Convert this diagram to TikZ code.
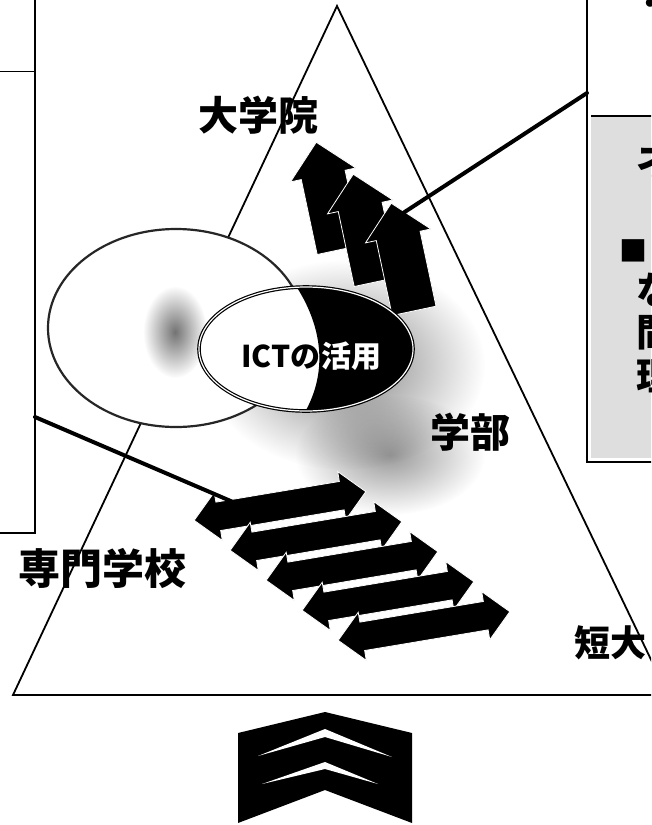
\documentclass[tikz,border=0pt]{standalone}
\usepackage{fontspec}
\newfontfamily\jpfont{Noto Sans CJK JP}
\usepackage{tikz}
\usetikzlibrary{shapes.arrows, fadings}
\newcommand{\jpsize}[1]{\jpfont\bfseries\fontsize{#1}{#1}\selectfont}
\tikzfading[name=smudge, inner color=transparent!0, outer color=transparent!100]

\begin{document}
\begin{tikzpicture}[x=1pt, y=-1pt,
    frame/.style={line width=2.6pt},
    pin/.style={line width=4pt, line cap=round},
    zone/.style={font=\jpsize{40}, inner sep=0pt},
    cut/.style={font=\jpsize{38}, inner sep=0pt, anchor=west},
    ict/.style={font=\jpsize{30}, inner sep=0pt},
    rise/.style={single arrow, fill=black, draw=white, line width=0.8pt, inner xsep=0pt, inner ysep=22pt, single arrow head extend=11pt, minimum height=110pt, rotate=102},
    swap/.style={double arrow, fill=black, draw=white, line width=0.8pt, inner xsep=0pt, inner ysep=14pt, double arrow head extend=10pt, minimum height=174pt, rotate=9.5},
    fog/.style={fill=black, path fading=smudge}]

    \useasboundingbox (0,0) rectangle (651,825);
    \clip (0,0) rectangle (651,825);
    \fill[white] (0,0) rectangle (651,825);

    % pyramid
    \coordinate (apex) at (337,6);
    \coordinate (lfoot) at (13,695);
    \coordinate (rfoot) at (668,695);
    \draw[line width=1.8pt] (apex) -- (lfoot) -- (rfoot) -- cycle;

    % grey cloud
    \fill[fog, opacity=0.5] (345,365) ellipse (140 and 105);
    \fill[fog, opacity=0.4] (390,455) ellipse (95 and 60);

    % left ellipse
    \draw[fill=white, draw=black!85, line width=2.2pt] (176,328) ellipse (128 and 99);
    \fill[fog, opacity=0.55] (175,332) ellipse (32 and 46);

    % rising arrows
    \node[rise] (upA) at (330,207) {};
    \node[rise] (upB) at (367,239) {};
    \node[rise] (upC) at (405,268) {};

    % ICT ellipse
    \begin{scope}
      \clip (306,349) ellipse (107 and 62);
      \fill[white] (190,280) rectangle (420,420);
      \fill[black] (292,280) .. controls (327,330) and (327,380) .. (300,420) -- (420,420) -- (420,280) -- cycle;
    \end{scope}
    \draw[line width=1.2pt, double=white, double distance=1.2pt] (306,349) ellipse (107 and 62);
    \node[ict, text=white, anchor=west] (ictuse) at (321,356) {活用};
    \node[ict, anchor=base east] (ictname) at (ictuse.base west) {ICTの};

    % two-way arrows
    \node[swap] (swapA) at (280,506) {};
    \node[swap] (swapB) at (316,536) {};
    \node[swap] (swapC) at (352,566) {};
    \node[swap] (swapD) at (388,596) {};
    \node[swap] (swapE) at (424,626) {};

    % side boxes
    \draw[frame] (-10,-10) rectangle (35,533);
    \draw[line width=1pt] (0,71) -- (35,71);
    \fill[black!13] (591,117) rectangle (660,458);
    \draw[line width=1.6pt] (591,116) -- (660,116);
    \draw[frame] (587,-10) rectangle (670,462);

    % pins
    \coordinate (lpin) at (35,417);
    \coordinate (lend) at (233,502);
    \coordinate (rpin) at (587,93);
    \coordinate (rend) at (397,217);
    \draw[pin] (lpin) -- (lend);
    \draw[pin] (rpin) -- (rend);

    % labels
    \node[zone] (grad) at (258,115) {大学院};
    \node[zone] (faculty) at (470,432) {学部};
    \node[zone, font=\jpsize{42}] (voc) at (103,568) {専門学校};
    \node[zone, font=\jpsize{36}] (junior) at (610,643) {短大};

    \node[font=\jpsize{30}, inner sep=0pt] (rbdot) at (650,7) {・};
    \node[cut] (rbA) at (636,160) {ネ};
    \node[cut, font=\jpsize{28}] (rbB) at (619,251) {■};
    \node[cut] (rbC) at (636,290) {な};
    \node[cut] (rbD) at (636,333) {間};
    \node[cut] (rbE) at (636,376) {理};

    % chevron
    \fill (238,733) -- (325,712) -- (412,733) -- (412,823) -- (325,790) -- (238,823) -- cycle;
    \fill[white] (258,756) -- (325,729) -- (392,757) -- (325,737) -- cycle;
    \fill[white] (262,784) -- (325,762) -- (378,784) -- (325,769) -- cycle;
\end{tikzpicture}
\end{document}
